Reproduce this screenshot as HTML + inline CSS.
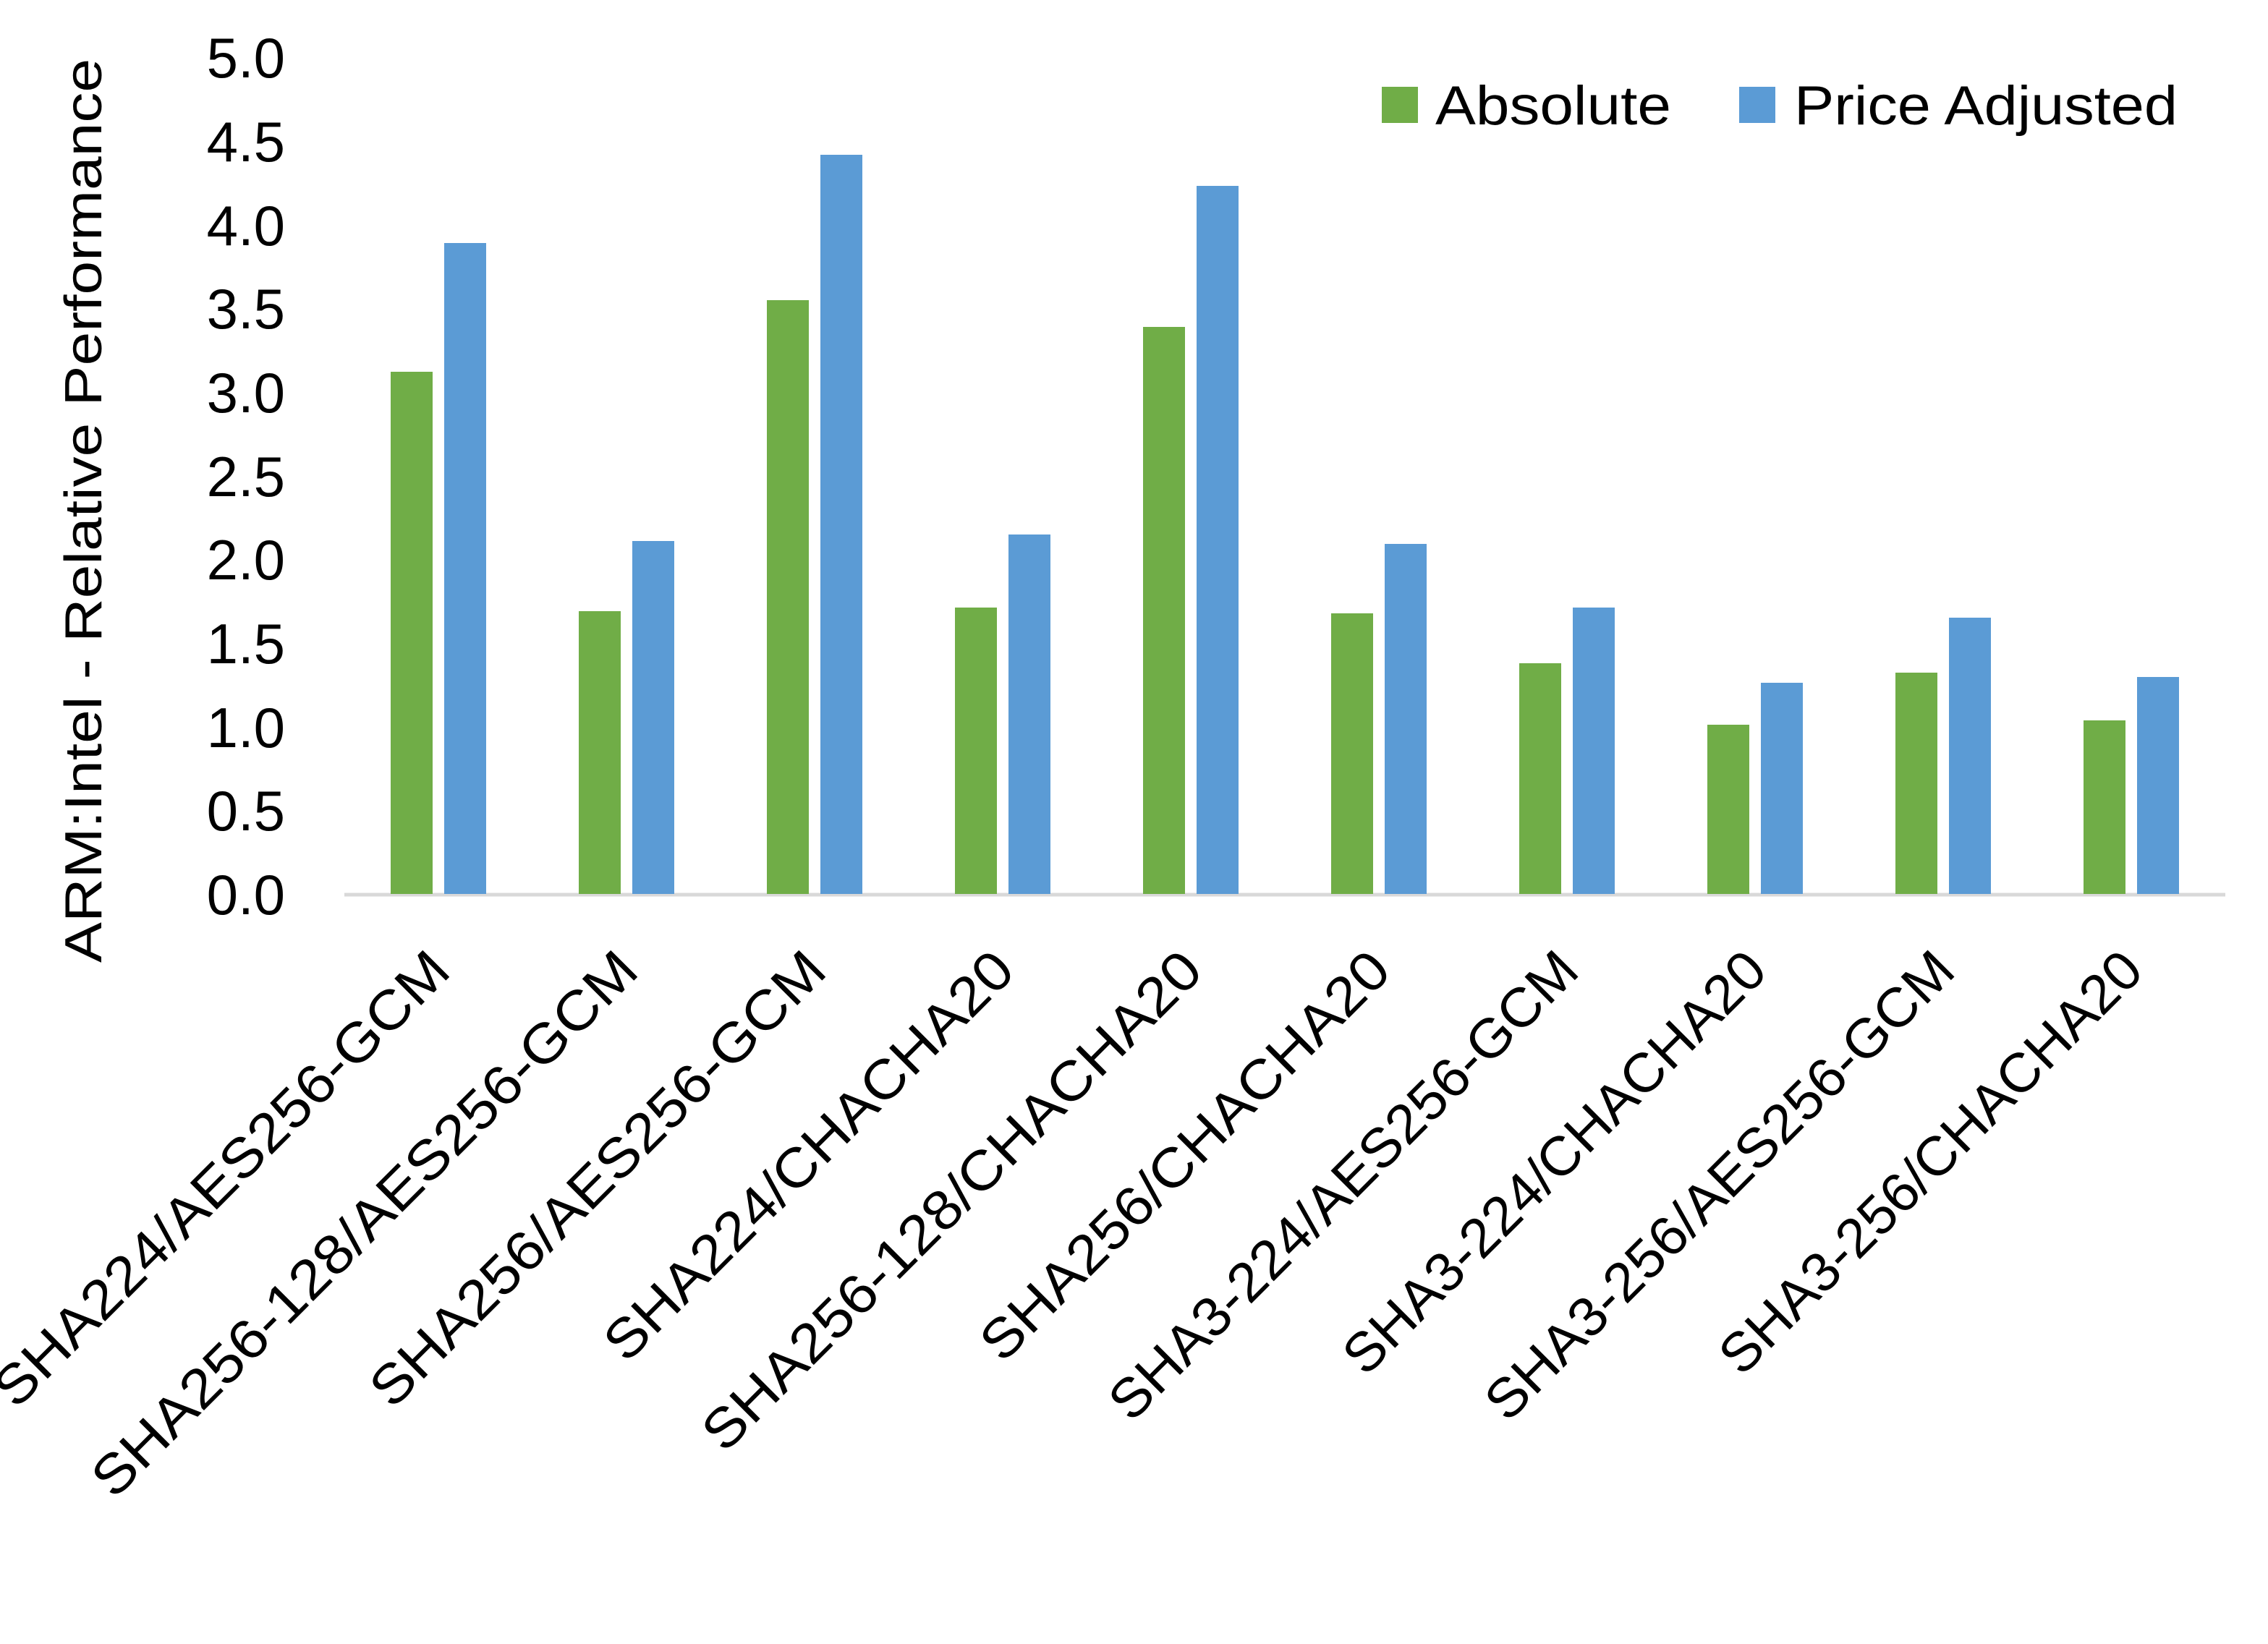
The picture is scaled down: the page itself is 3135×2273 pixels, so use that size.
<!DOCTYPE html>
<html><head><style>html,body{margin:0;padding:0;background:#fff;}svg{display:block}</style></head>
<body>
<svg width="3135" height="2273" viewBox="0 0 3135 2273" xmlns="http://www.w3.org/2000/svg" font-family="'Liberation Sans', sans-serif">
<rect width="3135" height="2273" fill="#fff"/>
<line x1="476" y1="1237" x2="3076" y2="1237" stroke="#d9d9d9" stroke-width="5"/>
<g font-size="78" text-anchor="end" fill="#000">
<text x="394" y="1264">0.0</text>
<text x="394" y="1148">0.5</text>
<text x="394" y="1033">1.0</text>
<text x="394" y="917">1.5</text>
<text x="394" y="801">2.0</text>
<text x="394" y="686">2.5</text>
<text x="394" y="570">3.0</text>
<text x="394" y="454">3.5</text>
<text x="394" y="339">4.0</text>
<text x="394" y="223">4.5</text>
<text x="394" y="107">5.0</text>
</g>
<text transform="translate(140,706) rotate(-90)" font-size="72" text-anchor="middle" textLength="1250" lengthAdjust="spacingAndGlyphs">ARM:Intel - Relative Performance</text>
<g fill="#70AD47">
<rect x="540" y="514" width="58" height="722"/>
<rect x="800" y="845" width="58" height="391"/>
<rect x="1060" y="415" width="58" height="821"/>
<rect x="1320" y="840" width="58" height="396"/>
<rect x="1580" y="452" width="58" height="784"/>
<rect x="1840" y="848" width="58" height="388"/>
<rect x="2100" y="917" width="58" height="319"/>
<rect x="2360" y="1002" width="58" height="234"/>
<rect x="2620" y="930" width="58" height="306"/>
<rect x="2880" y="996" width="58" height="240"/>
</g>
<g fill="#5B9BD5">
<rect x="614" y="336" width="58" height="900"/>
<rect x="874" y="748" width="58" height="488"/>
<rect x="1134" y="214" width="58" height="1022"/>
<rect x="1394" y="739" width="58" height="497"/>
<rect x="1654" y="257" width="58" height="979"/>
<rect x="1914" y="752" width="58" height="484"/>
<rect x="2174" y="840" width="58" height="396"/>
<rect x="2434" y="944" width="58" height="292"/>
<rect x="2694" y="854" width="58" height="382"/>
<rect x="2954" y="936" width="58" height="300"/>
</g>
<g font-size="76" text-anchor="end">
<text transform="translate(626,1346) rotate(-45)" textLength="854" lengthAdjust="spacingAndGlyphs">SHA224/AES256-GCM</text>
<text transform="translate(886,1346) rotate(-45)" textLength="1030" lengthAdjust="spacingAndGlyphs">SHA256-128/AES256-GCM</text>
<text transform="translate(1146,1346) rotate(-45)" textLength="854" lengthAdjust="spacingAndGlyphs">SHA256/AES256-GCM</text>
<text transform="translate(1406,1346) rotate(-45)" textLength="764" lengthAdjust="spacingAndGlyphs">SHA224/CHACHA20</text>
<text transform="translate(1666,1346) rotate(-45)" textLength="940" lengthAdjust="spacingAndGlyphs">SHA256-128/CHACHA20</text>
<text transform="translate(1926,1346) rotate(-45)" textLength="764" lengthAdjust="spacingAndGlyphs">SHA256/CHACHA20</text>
<text transform="translate(2186,1346) rotate(-45)" textLength="880" lengthAdjust="spacingAndGlyphs">SHA3-224/AES256-GCM</text>
<text transform="translate(2446,1346) rotate(-45)" textLength="790" lengthAdjust="spacingAndGlyphs">SHA3-224/CHACHA20</text>
<text transform="translate(2706,1346) rotate(-45)" textLength="880" lengthAdjust="spacingAndGlyphs">SHA3-256/AES256-GCM</text>
<text transform="translate(2966,1346) rotate(-45)" textLength="790" lengthAdjust="spacingAndGlyphs">SHA3-256/CHACHA20</text>
</g>
<rect x="1910" y="120" width="50" height="50" fill="#70AD47"/>
<text x="1984" y="172" font-size="76" textLength="326" lengthAdjust="spacingAndGlyphs">Absolute</text>
<rect x="2404" y="120" width="50" height="50" fill="#5B9BD5"/>
<text x="2480" y="172" font-size="76" textLength="530" lengthAdjust="spacingAndGlyphs">Price Adjusted</text>
</svg>
</body></html>
